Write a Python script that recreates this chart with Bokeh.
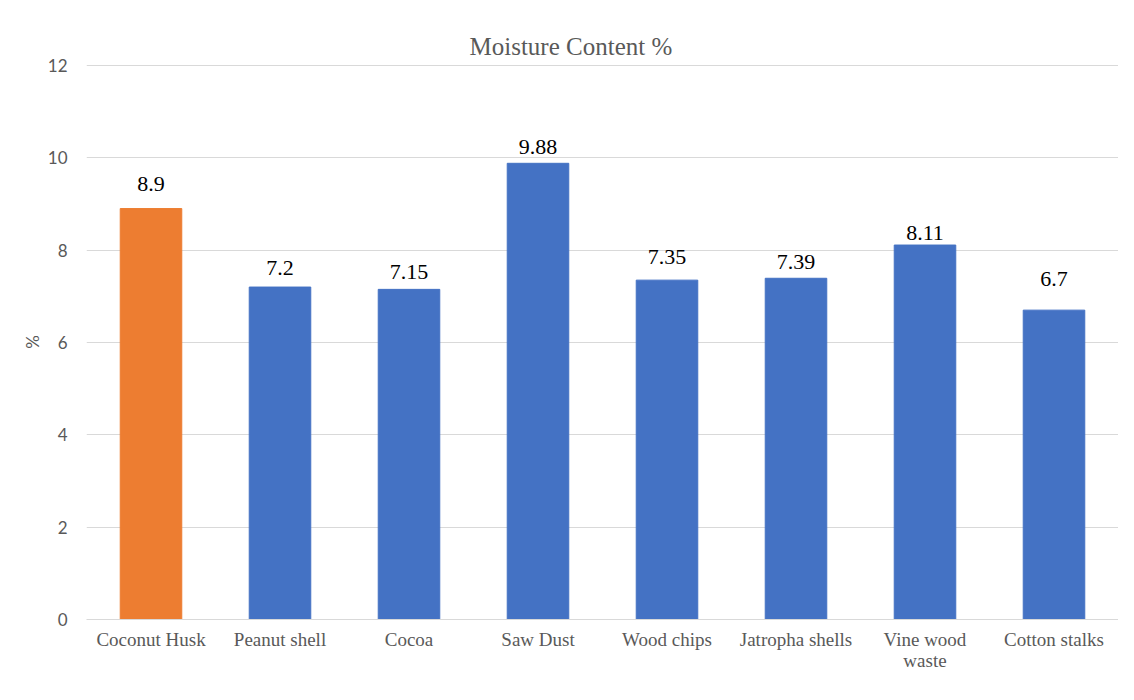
import json
from bokeh.plotting import figure
from bokeh.models import (ColumnDataSource, FactorRange, Range1d, LabelSet, Title,
                          FixedTicker, CategoricalAxis, CustomJSTickFormatter)
from bokeh.embed import file_html
from bokeh.resources import INLINE

categories = ["Coconut Husk", "Peanut shell", "Cocoa", "Saw Dust", "Wood chips",
              "Jatropha shells", "Vine wood waste", "Cotton stalks"]
moisture = [8.9, 7.2, 7.15, 9.88, 7.35, 7.39, 8.11, 6.7]
value_labels = ["8.9", "7.2", "7.15", "9.88", "7.35", "7.39", "8.11", "6.7"]
y_ticks = [0, 2, 4, 6, 8, 10, 12]
# category names as printed, split over two lines where the chart wraps them
label_line1 = ["Coconut Husk", "Peanut shell", "Cocoa", "Saw Dust", "Wood chips",
               "Jatropha shells", "Vine wood", "Cotton stalks"]
label_line2 = ["", "", "", "", "", "", "waste", ""]

# styling (not data)
bar_colors = ["#ED7D31"] + ["#4472C4"] * 7
label_lift = [25, 19, 17, 16, 23, 16, 12, 31]

src = ColumnDataSource(dict(cat=categories, val=moisture, txt=value_labels,
                            color=bar_colors, lift=label_lift))

p = figure(x_range=FactorRange(*categories, range_padding=0),
           y_range=Range1d(0, 12.02),
           width=1118, height=684, output_backend="svg", toolbar_location=None,
           min_border_left=86, min_border_right=0, min_border_top=64,
           min_border_bottom=65)
p.outline_line_color = None
p.background_fill_color = "white"
p.border_fill_color = "white"

p.vbar(x="cat", top="val", width=0.477, color="color", source=src)

p.add_layout(LabelSet(x="cat", y="val", text="txt", source=src, y_offset="lift",
                      text_align="center", text_baseline="middle",
                      text_font="Liberation Serif", text_font_size="22px",
                      text_color="#000000"))

# grid
p.xgrid.grid_line_color = None
p.ygrid.grid_line_color = "#d9d9d9"
p.ygrid.grid_line_width = 1

# y axis
p.yaxis.ticker = FixedTicker(ticks=y_ticks)
p.yaxis.axis_line_color = None
p.yaxis.major_tick_line_color = None
p.yaxis.minor_tick_line_color = None
p.yaxis.major_label_text_font = "Lato"
p.yaxis.major_label_text_font_size = "17px"
p.yaxis.major_label_text_color = "#595959"
p.yaxis.major_label_standoff = 13
p.yaxis.axis_label = "%"
p.yaxis.axis_label_text_font = "Lato"
p.yaxis.axis_label_text_font_style = "normal"
p.yaxis.axis_label_text_font_size = "17px"
p.yaxis.axis_label_text_color = "#595959"
p.yaxis.axis_label_standoff = 2


def line_formatter(lines):
    mapping = json.dumps(dict(zip(categories, lines)))
    return CustomJSTickFormatter(
        code=f"const m = {mapping}; return (tick in m) ? m[tick] : tick;")


# x axis (first line of category labels)
xa = p.xaxis[0]
xa.axis_line_color = "#d9d9d9"
xa.axis_line_width = 1
xa.major_tick_line_color = None
xa.minor_tick_line_color = None
xa.major_label_text_font = "Liberation Serif"
xa.major_label_text_font_size = "19px"
xa.major_label_text_color = "#595959"
xa.major_label_standoff = 3
xa.formatter = line_formatter(label_line1)

# second line of wrapped category labels
xa2 = CategoricalAxis(axis_line_color=None, major_tick_line_color=None,
                      minor_tick_line_color=None,
                      major_label_text_font="Liberation Serif",
                      major_label_text_font_size="19px",
                      major_label_text_color="#595959",
                      major_label_standoff=-9,
                      formatter=line_formatter(label_line2))
p.add_layout(xa2, "below")

# title
p.add_layout(Title(text="Moisture Content %", align="left", offset=383,
                   standoff=9, text_font="Liberation Serif",
                   text_font_size="25px", text_font_style="normal",
                   text_color="#595959"), "above")

open("out.html", "w").write(file_html(p, INLINE))
